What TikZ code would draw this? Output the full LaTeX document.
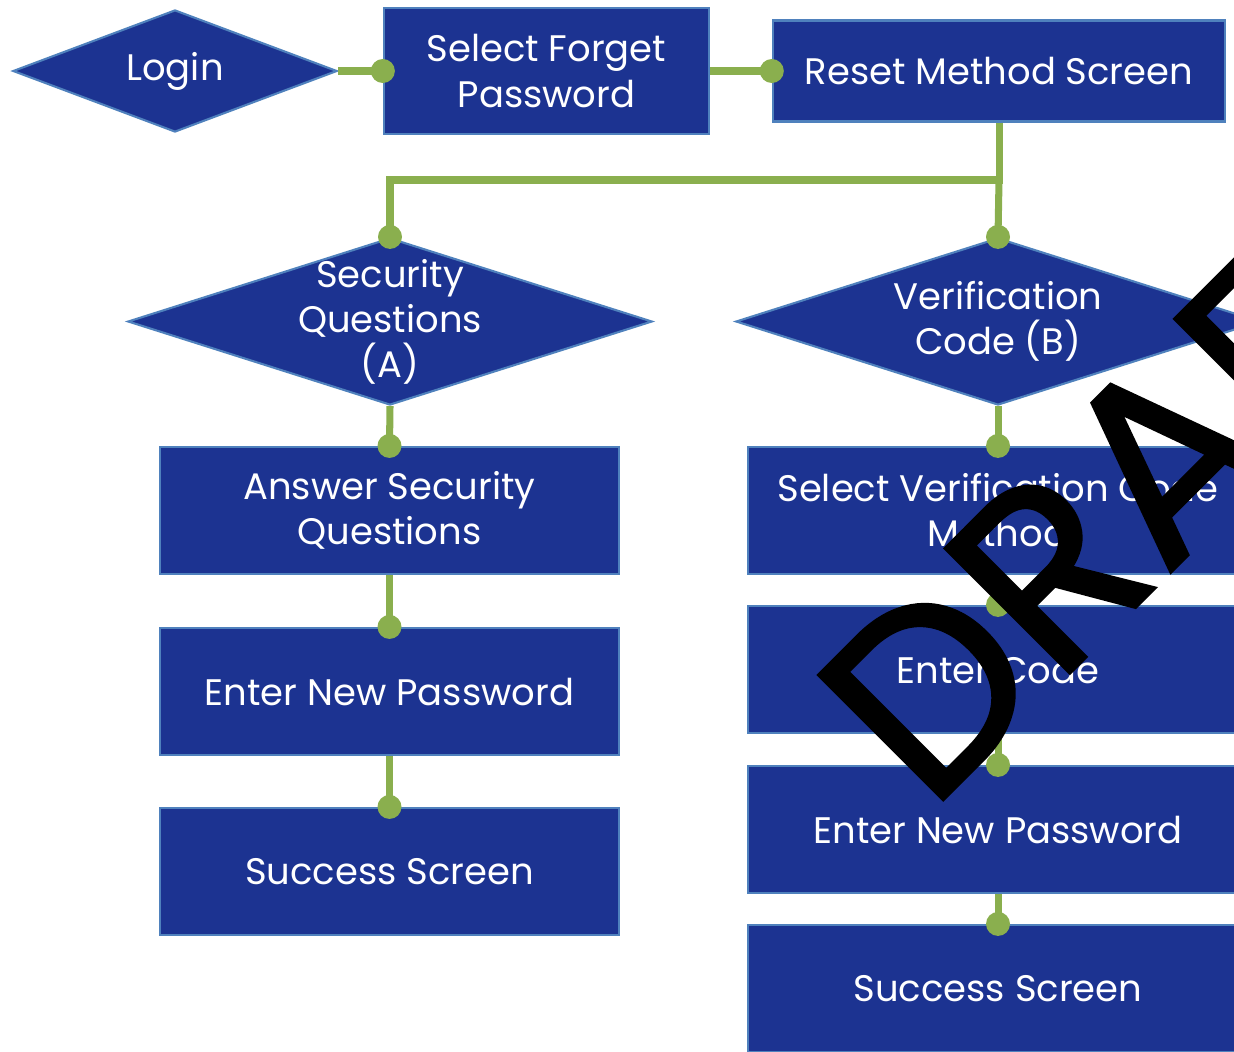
\documentclass[tikz,border=0pt]{standalone}
\usepackage{fontspec}
\setmainfont{Poppins}
\newfontfamily\markfont[FakeBold=1.2]{Poppins}
\usetikzlibrary{shapes.geometric}
\definecolor{boxblue}{RGB}{28,51,145}
\definecolor{edgeblue}{RGB}{79,129,189}
\definecolor{linkgreen}{RGB}{138,175,78}

\begin{document}
\begin{tikzpicture}
  [x=0.01cm,y=-0.01cm,
   every node/.style={text=white,align=center,font=\fontsize{10.5}{12.8}\selectfont},
   box/.style={rectangle,fill=boxblue,draw=edgeblue,line width=0.6pt,minimum height=1.27cm},
   choice/.style={diamond,fill=boxblue,draw=edgeblue,line width=0.6pt,inner sep=0pt,
     minimum width=5.24cm,minimum height=1.67cm},
   link/.style={draw=linkgreen,line width=2pt}]
  \clip (0,0) rectangle (1234,1051);

  % top row
  \node[choice,minimum width=3.24cm,minimum height=1.22cm,label={center:Login}] (login) at (175,71) {};
  \node[box,minimum width=3.25cm,minimum height=1.26cm] (forget) at (546.5,71) {Select Forget\\Password};
  \node[box,minimum width=4.52cm,minimum height=1.01cm] (reset) at (999,71) {Reset Method Screen};
  \coordinate (fork) at (999,180);

  % branch A
  \node[choice,label={[align=center]center:Security\\Questions\\(A)}] (secq) at (390,321.5) {};
  \node[box,minimum width=4.59cm] (answer) at (389.5,510.5) {Answer Security\\Questions};
  \node[box,minimum width=4.59cm] (newpwa) at (389.5,691.5) {Enter New Password};
  \node[box,minimum width=4.59cm] (donea) at (389.5,871.5) {Success Screen};

  % branch B
  \node[choice,label={[align=center]center:Verification\\Code (B)}] (vcode) at (998,321.5) {};
  \node[box,minimum width=5cm] (selmeth) at (998,510.5) {Select Verification Code\\Method};
  \node[box,minimum width=5cm] (entcode) at (998,669.5) {Enter Code};
  \node[box,minimum width=5cm] (newpwb) at (998,829.5) {Enter New Password};
  \node[box,minimum width=5cm] (doneb) at (998,988.5) {Success Screen};

  \draw[link] (reset.south) -- (fork) -| (secq.north);
  \foreach \from/\to in
  {login.east/forget.west, forget.east/reset.west, fork/vcode.north,
   secq.south/answer.north, answer.south/newpwa.north, newpwa.south/donea.north,
   vcode.south/selmeth.north, selmeth.south/entcode.north, entcode.south/newpwb.north,
   newpwb.south/doneb.north}
    \draw[link] (\from) -- (\to);
  \foreach \to in
  {forget.west, reset.west, secq.north, vcode.north, answer.north, newpwa.north,
   donea.north, selmeth.north, entcode.north, newpwb.north, doneb.north}
    \fill[linkgreen] (\to) circle (0.12cm);

  % watermark
  \node[text=black,rotate=45,anchor=base west,inner sep=0pt,
    font=\markfont\fontsize{72}{72}\selectfont] (draft) at (929,814) {DRAFT};
\end{tikzpicture}
\end{document}
